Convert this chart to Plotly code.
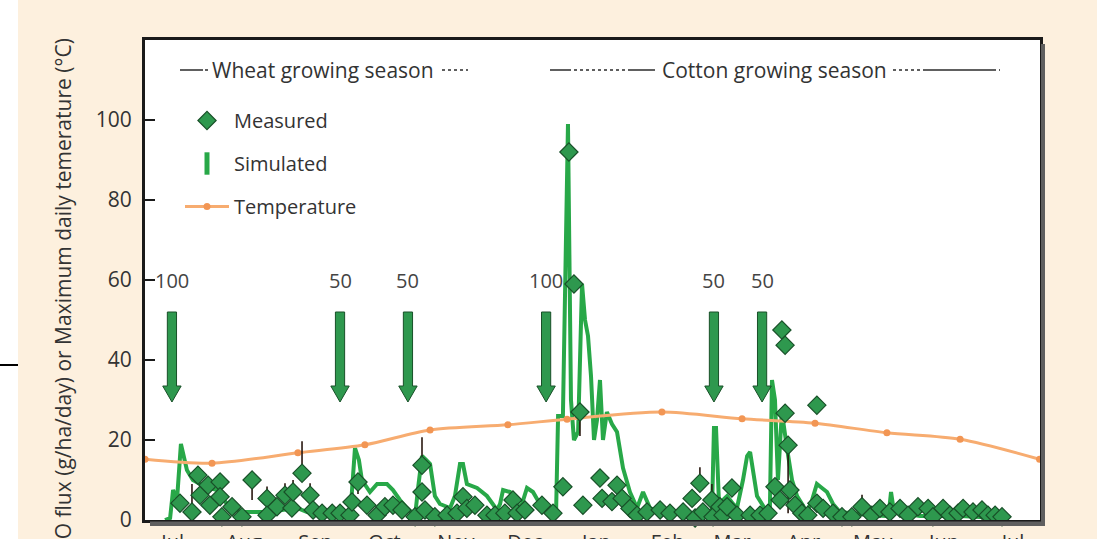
import pandas as pd
import plotly.graph_objects as go

# ---------------- data ----------------
START = pd.Timestamp("2005-06-19")
SPAN_DAYS = 388.7

# Simulated N2O flux (g/ha/day) - days after start
sim_day = [8.7, 10.9, 12.2, 13.9, 15.6, 16.9, 18.2, 20.8, 23.9, 28.2, 31.3, 35.6, 41.3, 53.0, 58.6,
           66.0, 70.4, 80.3, 88.2, 89.5, 91.2, 92.9, 94.2, 97.7, 100.8, 105.1, 107.7, 110.7, 113.8,
           117.3, 118.6, 120.3, 122.1, 123.8, 125.9, 128.1, 132.5, 134.6, 136.8, 138.1, 139.8, 144.2,
           148.5, 152.9, 154.2, 155.5, 158.5, 161.6, 163.7, 165.9, 168.5, 171.5, 175.0, 178.5, 179.4,
           181.5, 183.7, 185.0, 186.3, 188.1, 189.8, 191.1, 192.4, 193.7, 195.0, 196.3, 197.6, 198.9,
           200.6, 202.8, 205.0, 207.6, 210.6, 213.7, 216.3, 219.3, 223.7, 232.3, 241.0, 246.2, 247.1,
           248.0, 249.3, 252.8, 255.4, 257.1, 259.7, 261.5, 262.8, 264.1, 265.8, 270.1, 271.4, 272.3,
           273.6, 274.9, 276.6, 278.8, 281.0, 283.2, 287.5, 289.7, 291.8, 294.0, 296.2, 298.8, 301.8,
           310.5, 321.4, 323.1, 324.0, 325.3, 336.6, 354.0, 371.3]
sim_flux = [0, 0.5, 7.5, 5, 19, 16, 12.5, 10, 9, 8, 7.5, 4, 2, 2, 2.5,
            3, 2, 1.5, 1.5, 4, 18, 15, 10, 7, 9, 9, 7.5, 5, 3,
            1, 8, 16, 15, 14, 6, 4, 3, 6, 14, 14, 9, 8,
            6, 2.5, 4, 7.5, 7, 3, 4, 8, 7, 4, 2.5, 1, 26,
            26, 99, 30, 20, 22, 59, 50, 46, 36, 20, 25, 35, 20,
            27, 24, 22, 13, 7, 3, 7, 3, 2, 1.5, 1.5, 1, 23,
            23, 4, 6, 4, 3, 10, 16, 17, 12.5, 6, 2, 3, 35,
            30, 10, 27, 18, 10, 6, 2, 5, 9, 8, 7, 4, 2,
            1.5, 1, 2, 7, 2, 1, 1, 0.5]

# Measured N2O flux (g/ha/day) with error bars
meas_day = [15.2, 20.4, 23.0, 23.9, 27.4, 28.2, 32.6, 32.6, 33.4, 37.8,
            42.1, 46.5, 53.0, 53.0, 57.3, 60.8, 63.8, 64.3, 68.2, 71.7,
            73.0, 76.9, 81.3, 84.7, 89.0, 89.9, 92.5, 96.4, 100.8, 104.2,
            107.7, 111.6, 117.3, 120.3, 120.3, 121.6, 125.9, 131.2, 135.5, 138.1,
            139.8, 143.3, 148.5, 152.0, 156.3, 159.8, 161.6, 165.0, 172.4, 177.2,
            181.5, 184.1, 186.3, 188.9, 190.2, 197.6, 198.5, 202.8, 205.0, 207.2,
            210.6, 213.7, 218.0, 223.7, 228.0, 233.7, 237.6, 238.9, 241.0, 242.3,
            246.2, 246.7, 249.7, 251.0, 252.8, 254.9, 257.1, 262.8, 267.1, 270.6,
            273.6, 275.8, 276.6, 278.0, 278.0, 279.3, 280.1, 282.3, 285.3, 287.9,
            291.8, 291.8, 294.5, 298.8, 302.7, 307.0, 311.4, 315.7, 319.2, 323.5,
            327.9, 331.4, 335.7, 340.1, 342.2, 346.6, 349.6, 353.1, 355.3, 359.6,
            363.5, 366.1, 369.2, 372.2]
meas_flux = [4.2, 2.0, 11.2, 6.2, 8.7, 3.7, 9.5, 5.8, 0.8, 3.3,
             0.8, 10.0, 5.4, 1.2, 3.3, 6.2, 3.0, 7.0, 11.7, 6.2,
             2.5, 1.7, 1.7, 1.7, 1.2, 4.5, 9.5, 3.7, 1.2, 3.3,
             3.7, 2.5, 0.8, 13.7, 7.0, 2.5, 0.8, 1.2, 1.7, 5.8,
             2.9, 3.7, 1.2, 1.2, 1.7, 5.0, 1.7, 2.5, 3.7, 1.7,
             8.3, 92.0, 59.0, 27.0, 3.7, 10.5, 5.4, 4.6, 8.7, 5.4,
             2.9, 1.2, 2.0, 2.5, 1.7, 2.0, 5.4, 0.5, 9.2, 2.0,
             5.0, 0.8, 3.3, 1.2, 3.3, 8.0, 1.2, 1.2, 1.2, 1.7,
             8.3, 5.0, 47.5, 43.7, 26.7, 18.7, 7.5, 3.7, 1.7, 1.2,
             28.7, 4.2, 2.9, 1.7, 0.8, 0.8, 3.3, 1.2, 2.9, 2.0,
             2.9, 1.2, 3.3, 2.9, 0.8, 2.9, 1.2, 1.7, 2.9, 2.0,
             2.5, 1.2, 1.2, 0.8]
meas_err_up = [0, 7, 0, 0, 0, 0, 0, 0, 0, 0,
               0, 0, 3, 0, 0, 3, 0, 3, 8, 3,
               0, 0, 0, 0, 0, 0, 0, 0, 0, 0,
               0, 0, 0, 7, 0, 0, 0, 0, 0, 0,
               0, 0, 0, 0, 0, 0, 0, 0, 0, 0,
               0, 0, 0, 0, 0, 0, 0, 0, 0, 0,
               0, 0, 0, 0, 0, 0, 0, 0, 4, 0,
               4, 0, 0, 0, 0, 0, 0, 0, 0, 0,
               0, 0, 0, 0, 0, 0, 0, 0, 0, 0,
               0, 0, 0, 0, 0, 0, 3, 0, 0, 0,
               0, 0, 0, 0, 0, 0, 0, 0, 0, 0,
               0, 0, 0, 0]
meas_err_down = [0, 0, 0, 0, 0, 0, 0, 0, 0, 0,
                 0, 5, 0, 0, 0, 0, 0, 0, 0, 0,
                 0, 0, 0, 0, 0, 0, 3, 0, 0, 0,
                 0, 0, 0, 0, 0, 0, 0, 0, 0, 0,
                 0, 0, 0, 0, 0, 0, 0, 0, 0, 0,
                 0, 0, 0, 6, 0, 0, 0, 0, 0, 0,
                 0, 0, 0, 0, 0, 0, 0, 0, 0, 0,
                 0, 0, 0, 0, 0, 0, 0, 0, 0, 0,
                 0, 0, 0, 0, 0, 17, 0, 0, 0, 0,
                 0, 0, 0, 0, 0, 0, 0, 0, 0, 0,
                 0, 0, 0, 0, 0, 0, 0, 0, 0, 0,
                 0, 0, 0, 0]

# Maximum daily temperature (deg C)
temp_day = [0, 29.1, 66.4, 95.5, 123.8, 157.6, 183.3, 224.5, 259.3, 291.0, 322.2, 354.0, 388.5]
temp_max = [15.2, 14.2, 16.8, 18.8, 22.5, 23.8, 25.2, 27.0, 25.3, 24.2, 21.8, 20.2, 15.2]

# N fertiliser applications (kg N/ha)
fert_day = [11.7, 84.7, 114.2, 174.2, 247.1, 268.0]
fert_amount = [100, 50, 50, 100, 50, 50]

legend_names = ["Measured", "Simulated", "Temperature"]
season_names = ["Wheat growing season", "Cotton growing season"]
y_title = "N<sub>2</sub>O flux (g/ha/day) or Maximum daily temerature (°C)"

# ---------------- styling ----------------
GREEN_LINE = "rgb(40,168,72)"
GREEN_FILL = "rgb(46,152,78)"
GREEN_DARK = "rgb(24,80,40)"
ORANGE_LINE = "rgb(247,172,112)"
ORANGE_MARK = "rgb(242,150,84)"
INK = "#2b2b2b"
PEACH = "rgb(253,240,222)"
FONT = "Open Sans"

L, R, T, B = 145, 57, 40, 19
W, H = 1097, 539
PW, PH = W - L - R, H - T - B


def px_x(p):
    return (p - L) / PW


def px_y(p):
    return (H - B - p) / PH


def to_date(days):
    return [None if d is None else START + pd.Timedelta(days=d) for d in days]


fig = go.Figure()

fig.add_trace(go.Scatter(
    x=to_date(sim_day), y=sim_flux, mode="lines", name=legend_names[1],
    line=dict(color=GREEN_LINE, width=4), showlegend=False))

fig.add_trace(go.Scatter(
    x=to_date(temp_day), y=temp_max, mode="lines+markers", name=legend_names[2],
    line=dict(color=ORANGE_LINE, width=3, shape="spline", smoothing=0.8),
    marker=dict(size=7, color=ORANGE_MARK), legendrank=3, legendgroup="c"))

# fertiliser arrows (drawn in data space)
hw, hh = 2.0, 4.0
y_top, y_base, y_tip = 52, 33.5, 29.5
annotations = []
for d, amt in zip(fert_day, fert_amount):
    xs = [d - hw, d + hw, d + hw, d + hh, d, d - hh, d - hw, d - hw]
    ys = [y_top, y_top, y_base, y_base, y_tip, y_base, y_base, y_top]
    fig.add_trace(go.Scatter(
        x=to_date(xs), y=ys, mode="lines", fill="toself", fillcolor=GREEN_FILL,
        line=dict(color=GREEN_DARK, width=1), showlegend=False, hoverinfo="skip"))
    annotations.append(dict(
        x=START + pd.Timedelta(days=d), y=59.8, xref="x", yref="y", text=str(amt),
        showarrow=False, font=dict(size=20, color="#444", family=FONT)))

fig.add_trace(go.Scatter(
    x=to_date(meas_day), y=meas_flux, mode="markers", name=legend_names[0],
    marker=dict(symbol="diamond", size=14, color=GREEN_FILL,
                line=dict(color=GREEN_DARK, width=1.2)),
    error_y=dict(type="data", symmetric=False, array=meas_err_up,
                 arrayminus=meas_err_down, color="#2a1810", thickness=1.6, width=0),
    cliponaxis=False, legendrank=1, legendgroup="a"))

# legend-only entry for the simulated series (vertical bar symbol)
fig.add_trace(go.Scatter(
    x=[None], y=[None], mode="markers", name=legend_names[1],
    marker=dict(symbol="line-ns", size=16, color=GREEN_LINE,
                line=dict(color=GREEN_LINE, width=8)),
    legendrank=2, legendgroup="b"))

# y-axis title
annotations.append(dict(
    x=px_x(64), y=px_y(37), xref="paper", yref="paper", text=y_title, textangle=-90,
    showarrow=False, xanchor="center", yanchor="top",
    font=dict(size=21, color="#333", family=FONT)))

# season header texts
annotations.append(dict(x=px_x(210), y=px_y(70), xref="paper", yref="paper",
                        text=season_names[0], showarrow=False, xanchor="left",
                        yanchor="middle", font=dict(size=21, color="#333", family=FONT)))
annotations.append(dict(x=px_x(660), y=px_y(70), xref="paper", yref="paper",
                        text=season_names[1], showarrow=False, xanchor="left",
                        yanchor="middle", font=dict(size=21, color="#333", family=FONT)))

shapes = []


def hline(x0, x1, y, dash="solid", width=1.5, color=INK):
    shapes.append(dict(type="line", xref="paper", yref="paper",
                       x0=px_x(x0), x1=px_x(x1), y0=px_y(y), y1=px_y(y),
                       line=dict(color=color, width=width, dash=dash)))


# season header rules
hline(180, 203, 70)
hline(205, 208, 70)
hline(442, 468, 70, dash="dot")
hline(550, 568, 70)
hline(568, 628, 70, dash="dot")
hline(628, 655, 70)
hline(893, 925, 70, dash="dot")
hline(925, 993, 70)
hline(993, 1000, 70, dash="dot")

# frame shadow
shapes.append(dict(type="rect", xref="paper", yref="paper", x0=px_x(1041), x1=px_x(1045),
                   y0=px_y(526), y1=px_y(44), fillcolor="rgb(95,95,95)", line=dict(width=0)))
shapes.append(dict(type="rect", xref="paper", yref="paper", x0=px_x(150), x1=px_x(1045),
                   y0=px_y(526), y1=px_y(521.5), fillcolor="rgb(95,95,95)", line=dict(width=0)))
# white strip at the far left and a short rule
shapes.append(dict(type="rect", xref="paper", yref="paper", x0=px_x(0), x1=px_x(18),
                   y0=px_y(H + 5), y1=px_y(-5), fillcolor="white", line=dict(width=0)))
hline(0, 18, 365, width=2, color="black")

fig.update_layout(
    width=W, height=H,
    margin=dict(l=L, r=R, t=T, b=B, pad=0, autoexpand=False),
    paper_bgcolor=PEACH, plot_bgcolor="white",
    font=dict(family=FONT, color="#333"),
    showlegend=True,
    legend=dict(x=px_x(180), y=px_y(101), xanchor="left", yanchor="top",
                bgcolor="rgba(0,0,0,0)", font=dict(size=20, color="#333", family=FONT),
                tracegroupgap=14, itemwidth=44),
    annotations=annotations, shapes=shapes,
)
fig.update_xaxes(
    type="date", range=[START, START + pd.Timedelta(days=SPAN_DAYS)],
    showline=True, linewidth=3, linecolor="#1a1a1a", mirror=True,
    ticks="", dtick="M1", tick0="2005-07-01", tickformat="%b",
    tickfont=dict(size=20, color="#333", family=FONT), ticklabelstandoff=2,
    showgrid=False, zeroline=False)
fig.update_yaxes(
    range=[0, 120], tickvals=[0, 20, 40, 60, 80, 100],
    ticks="inside", ticklen=10, tickwidth=2, tickcolor="#1a1a1a",
    showline=True, linewidth=3, linecolor="#1a1a1a", mirror=True,
    tickfont=dict(size=21, color="#333", family=FONT), ticklabelstandoff=6,
    showgrid=False, zeroline=False)

fig.write_html("out.html")
